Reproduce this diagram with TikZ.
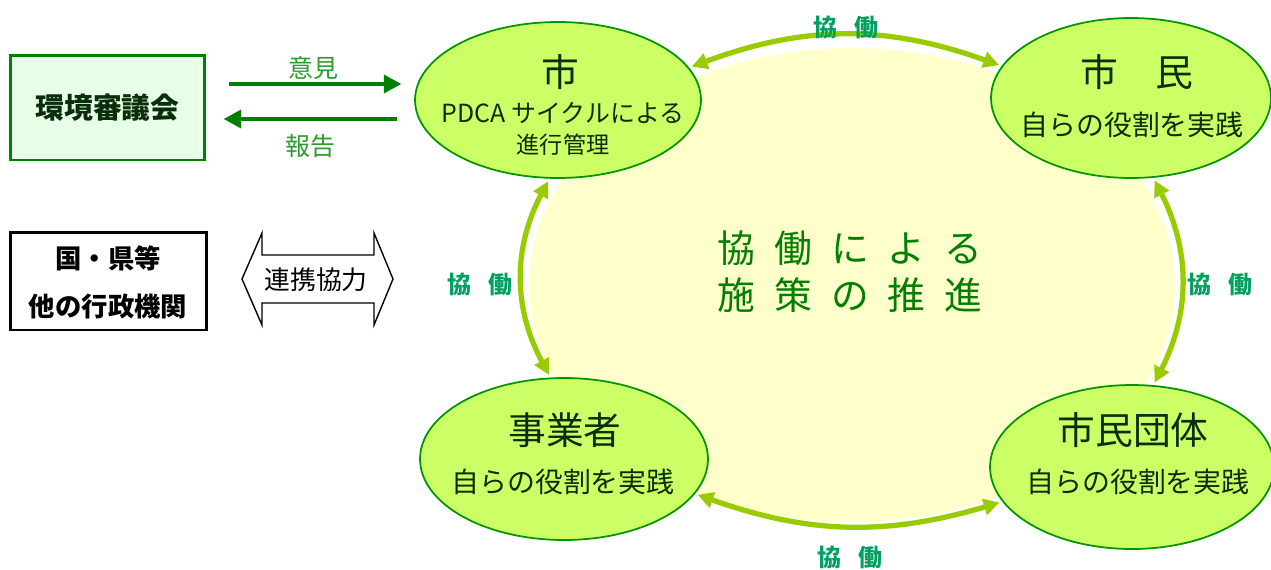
\documentclass[tikz,border=0pt]{standalone}
\usepackage{fontspec}
\setmainfont{Noto Sans CJK JP}
\usetikzlibrary{calc,arrows.meta,shapes.geometric}
\definecolor{bgyellow}{HTML}{FFFFCC}
\definecolor{arcgreen}{HTML}{99CC00}
\definecolor{ellfill}{HTML}{CCFF66}
\definecolor{ellline}{HTML}{009600}
\definecolor{elltext}{HTML}{0A2E0A}
\definecolor{darkgreen}{HTML}{008000}
\definecolor{labelgreen}{HTML}{2E9A2E}
\definecolor{kyodogreen}{HTML}{00A060}
\definecolor{boxfill}{HTML}{E6FFE6}
\newcommand\gp{\hspace{0.5em}}

\tikzset{
  cell/.style={ellipse, draw=ellline, fill=ellfill, line width=1pt, inner sep=0pt, outer sep=2pt},
  title/.style={text=elltext, font=\fontsize{21.5}{24}\selectfont},
  sub/.style={text=elltext, font=\fontsize{15.9}{18}\selectfont},
  kyodo/.style={text=kyodogreen, font=\bfseries\fontsize{13.6}{16}\selectfont},
  link/.style={arcgreen, line width=3pt, {Triangle[length=9pt,width=9pt]}-{Triangle[length=9pt,width=9pt]}},
  report/.style={darkgreen, line width=2.8pt, -{Triangle[length=10pt,width=10pt]}},
}

\begin{document}
\begin{tikzpicture}[x=0.02cm, y=-0.02cm]
  \useasboundingbox (0,0) rectangle (1271,569);

  %--- background: the shared field ---
  \fill[bgyellow] (852,285) ellipse [x radius=6.46cm, y radius=4.74cm];
  \node[text=darkgreen, font=\fontsize{21.5}{24}\selectfont] (sesaku1) at (850,248) {協\gp 働\gp に\gp よ\gp る};
  \node[text=darkgreen, font=\fontsize{21.5}{24}\selectfont] (sesaku2) at (850,295) {施\gp 策\gp の\gp 推\gp 進};

  %--- four actors ---
  \node[cell, minimum width=5.72cm, minimum height=3.12cm] (shi) at (558,100) {};
  \node[title] (shiT) at (560,72) {市};
  \node[sub, font=\fontsize{14.2}{16}\selectfont] (shiS1) at (563,113) {PDCA サイクルによる};
  \node[sub, font=\fontsize{13.2}{16}\selectfont] (shiS2) at (563,145) {進行管理};

  \node[cell, minimum width=5.6cm, minimum height=3.2cm] (shimin) at (1131,98) {};
  \node[title] (shiminT) at (1137,72) {市　民};
  \node[sub] (shiminS) at (1132,125) {自らの役割を実践};

  \node[cell, minimum width=5.76cm, minimum height=3.24cm] (jigyo) at (564,459) {};
  \node[title] (jigyoT) at (565,430) {事業者};
  \node[sub] (jigyoS) at (563,482) {自らの役割を実践};

  \node[cell, minimum width=5.68cm, minimum height=3.28cm] (dantai) at (1132,467) {};
  \node[title] (dantaiT) at (1133,430) {市民団体};
  \node[sub] (dantaiS) at (1138,482) {自らの役割を実践};

  %--- cooperation arcs ---
  \draw[link] (shi.14) to[bend left=20] (shimin.166);
  \draw[link] (shi.263) to[bend right=28] (jigyo.100);
  \draw[link] (shimin.286) to[bend left=27] (dantai.75);
  \draw[link] (jigyo.345) to[bend right=18] (dantai.195);
  \node[kyodo] (kyodoN) at (846,27) {協\hspace{0.7em}働};
  \node[kyodo] (kyodoW) at (480,284) {協\hspace{0.7em}働};
  \node[kyodo] (kyodoE) at (1220,284) {協\hspace{0.7em}働};
  \node[kyodo] (kyodoS) at (850,557) {協\hspace{0.7em}働};

  %--- council ---
  \node[draw=darkgreen, fill=boxfill, line width=1.7pt, minimum width=3.9cm, minimum height=2.1cm,
        text=elltext, font=\bfseries\fontsize{16.4}{18}\selectfont] (kankyo) at (107.5,107.5) {環境審議会};
  \draw[report, shorten <=0.46cm, shorten >=0.2cm] ([yshift=0.47cm]kankyo.east) -- ([yshift=0.47cm]kankyo.east -| shi.west);
  \draw[report, shorten <=0.3cm, shorten >=0.34cm] ([yshift=-0.23cm]kankyo.east -| shi.west) -- ([yshift=-0.23cm]kankyo.east);
  \node[text=labelgreen, font=\fontsize{14.2}{16}\selectfont] (iken) at (313,68) {意見};
  \node[text=labelgreen, font=\fontsize{14.2}{16}\selectfont] (hokoku) at (310,146) {報告};

  %--- other agencies ---
  \node[draw, line width=1.7pt, minimum width=3.94cm, minimum height=1.96cm] (gyosei) at (108.5,281) {};
  \node[font=\bfseries\fontsize{15}{18}\selectfont] (gyosei1) at (108,258) {国・県等};
  \node[font=\bfseries\fontsize{15}{18}\selectfont] (gyosei2) at (108,307) {他の行政機関};
  \draw[line width=0.8pt, fill=white] (242,279) -- (262,233) -- (262,255) -- (374,255) -- (374,233) -- (393,279)
        -- (374,325) -- (374,303) -- (262,303) -- (262,325) -- cycle;
  \node[font=\fontsize{14.7}{17}\selectfont] (renkei) at (316,280) {連携協力};

\end{tikzpicture}
\end{document}
